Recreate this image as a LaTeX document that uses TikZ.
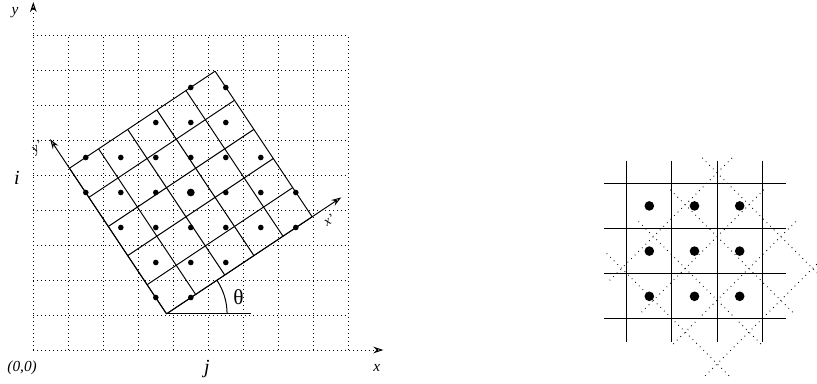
\documentclass[tikz,border=0pt]{standalone}
\usepackage{fontspec}
\setmainfont{Liberation Serif}
\usetikzlibrary{arrows.meta}
\begin{document}
\begin{tikzpicture}[x=0.75pt,y=-0.75pt,
  dotgrid/.style={line width=0.75pt, dash pattern=on 0.6pt off 2.4pt},
  solidline/.style={line width=0.75pt},
  axistip/.style={-{Stealth[open,length=7.5pt,width=5pt,inset=2.5pt]}},
  lab/.style={inner sep=0pt, font=\fontsize{11.5}{12}\selectfont\itshape},
  smalllab/.style={inner sep=0pt, font=\fontsize{10}{11}\selectfont\itshape},
  biglab/.style={inner sep=0pt, font=\fontsize{15}{16}\selectfont\itshape},
  rotdot/.style={line width=0.7pt, dash pattern=on 0.6pt off 3.2pt},
  tgtline/.style={line width=0.85pt}]
\useasboundingbox (0,0) rectangle (817,383);
% ---------------- left diagram ----------------
\begin{scope}[shift={(33.3,350)}, x=26.25pt, y=26.25pt]
  \foreach \k in {0,...,9} {
    \draw[dotgrid] (\k,0) -- (\k,9);
    \draw[dotgrid] (0,\k) -- (9,\k);
  }
  \coordinate (O) at (0,0);
  \coordinate (ytip) at (0,9.94);
  \coordinate (xtip) at (10.0,0);
  \draw[dotgrid, axistip] (O) -- (ytip);
  \draw[dotgrid, axistip] (O) -- (xtip);
  \node[lab] (ylab) at (-0.52,9.63) {y};
  \node[lab] (xlab) at (9.81,-0.51) {x};
  \node[lab] (olab) at (-0.32,-0.51) {(0,0)};
  \node[biglab] (jlab) at (4.96,-0.55) {j};
  \node[biglab] (ilab) at (-0.47,4.91) {i};
  \begin{scope}[shift={(4.5,4.5)}, rotate=33.69]
    \foreach \k in {-2.5,-1.5,...,2.5} {
      \draw[solidline] (\k,-2.5) -- (\k,2.5);
      \draw[solidline] (-2.5,\k) -- (2.5,\k);
    }
    \coordinate (B) at (-2.5,-2.5);
    \coordinate (xptip) at (3.5,-2.5);
    \coordinate (yptip) at (-2.5,3.5);
    \draw[solidline, axistip] (B) -- (xptip);
    \draw[solidline, axistip] (B) -- (yptip);
  \end{scope}
  \draw[solidline] (B) -- ++(2.4,0) coordinate (href);
  \draw[solidline] (B) ++(1.73,0) arc[start angle=0, end angle=33.69, radius=1.73];
  \node[inner sep=0pt, font=\fontsize{16}{17}\selectfont] (theta) at (5.86,1.52) {θ};
  \node[smalllab, rotate=33.69] (xplab) at (8.45,3.72) {x'};
  \node[smalllab, rotate=33.69] (yplab) at (0.12,5.78) {y'};
  \foreach \p in {(4.5,7.5),(5.5,7.5),
                  (3.5,6.5),(4.5,6.5),(5.5,6.5),
                  (1.5,5.5),(2.5,5.5),(3.5,5.5),(4.5,5.5),(5.5,5.5),(6.5,5.5),
                  (1.5,4.5),(2.5,4.5),(3.5,4.5),(5.5,4.5),(6.5,4.5),(7.5,4.5),
                  (2.5,3.5),(3.5,3.5),(4.5,3.5),(5.5,3.5),(6.5,3.5),(7.5,3.5),
                  (3.5,2.5),(4.5,2.5),(5.5,2.5),
                  (3.5,1.5),(4.5,1.5)} {
    \fill \p circle[radius=2.1pt];
  }
  \fill (4.5,4.5) circle[radius=2.9pt];
\end{scope}
% ---------------- right diagram ----------------
\begin{scope}
  \clip (0,0) rectangle (817,383);
  \begin{scope}[shift={(626.7,183.3)}, x=33.9pt, y=-33.9pt]
    \def\e{0.47}
    \foreach \a in {0,...,3} {
      \draw[rotdot] ({2+0.704*(\a+\e)},{-0.23+0.704*(\a-\e)}) --
                    ({2+0.704*(\a-3-\e)},{-0.23+0.704*(\a+3+\e)});
      \draw[rotdot] ({2+0.704*(-\e-\a)},{-0.23+0.704*(-\e+\a)}) --
                    ({2+0.704*(3+\e-\a)},{-0.23+0.704*(3+\e+\a)});
    }
  \end{scope}
\end{scope}
\begin{scope}[shift={(626.7,183.3)}, x=33.9pt, y=-33.9pt]
  \foreach \k in {0,...,3} {
    \draw[tgtline] (\k,-0.5) -- (\k,3.52);
    \draw[tgtline] (-0.5,\k) -- (3.52,\k);
  }
  \foreach \i in {0,1,2} {
    \foreach \j in {0,1,2} {
      \fill (\i+0.5,\j+0.5) circle[radius=3.6pt];
    }
  }
\end{scope}
\end{tikzpicture}
\end{document}
